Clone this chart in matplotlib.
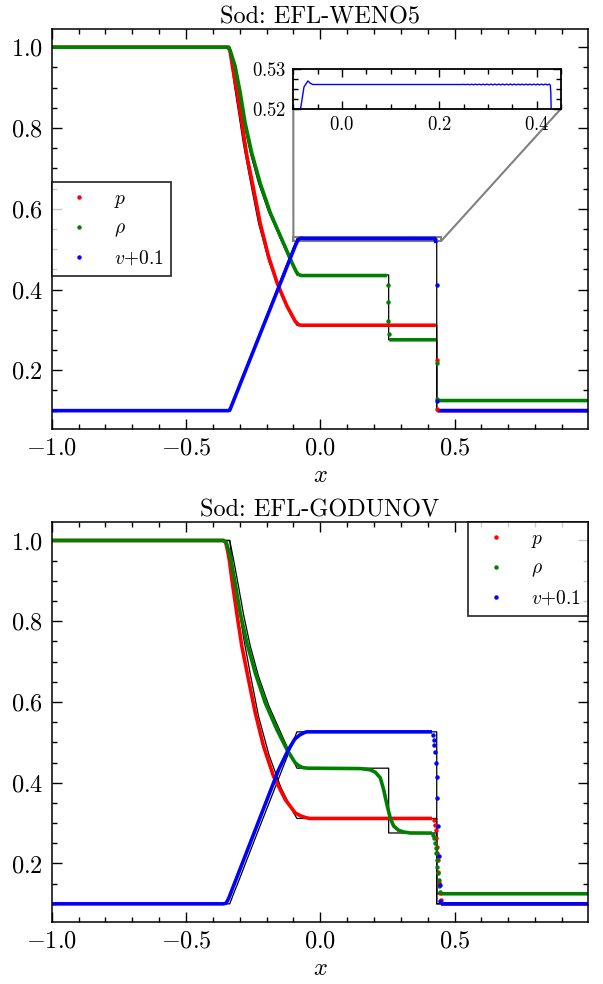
import numpy as np
import matplotlib
matplotlib.use('Agg')
import matplotlib.pyplot as plt
from matplotlib.ticker import MultipleLocator
from mpl_toolkits.axes_grid1.inset_locator import mark_inset

plt.rcParams['font.family'] = 'cmr10'
plt.rcParams['mathtext.fontset'] = 'cm'
plt.rcParams['axes.formatter.use_mathtext'] = True
plt.rcParams['font.size'] = 14

nan = np.nan

# exact Riemann solution (black line), shared by both panels
ex_x = [-1.0, -0.337, -0.322, -0.304, -0.286, -0.261, -0.230, -0.191, -0.147, -0.108,
        -0.087, 0.2547, 0.2547, 0.4337, 0.4337, 0.998]
ex_p = [1.0, 1.0, 0.916, 0.839, 0.761, 0.671, 0.565, 0.469, 0.389, 0.336,
        0.3115, 0.3115, 0.3115, 0.3115, 0.1, 0.1]
ex_rho = [1.0, 1.0, 0.950, 0.885, 0.818, 0.740, 0.664, 0.590, 0.524, 0.466,
          0.436, 0.436, 0.2755, 0.2755, 0.125, 0.125]
ex_v = [0.1, 0.1, 0.126, 0.156, 0.187, 0.230, 0.283, 0.349, 0.424, 0.490,
        0.526, 0.526, 0.526, 0.526, 0.1, 0.1]

# EFL-WENO5 (top)
weno_p_x = [-1.0, -0.342, -0.336, -0.325, -0.311, -0.292, -0.273, -0.248, -0.224, -0.193,
            -0.161, -0.124, -0.093, -0.080, -0.070, 0.430, nan, 0.437, 0.998]
weno_p = [1.0, 1.0, 0.99, 0.945, 0.895, 0.813, 0.730, 0.648, 0.565, 0.483,
          0.417, 0.359, 0.321, 0.3125, 0.3115, 0.3115, nan, 0.1, 0.1]
weno_p_dx = [0.4336, 0.436]
weno_p_dy = [0.225, 0.105]

weno_rho_x = [-1.0, -0.342, -0.336, -0.317, -0.298, -0.280, -0.255, -0.224, -0.186, -0.143,
              -0.105, -0.090, -0.081, -0.070, 0.249, nan, 0.257, 0.431, nan, 0.437, 0.998]
weno_rho = [1.0, 1.0, 0.993, 0.953, 0.887, 0.813, 0.738, 0.664, 0.590, 0.524,
            0.466, 0.445, 0.437, 0.4346, 0.4346, nan, 0.2755, 0.2755, nan, 0.125, 0.125]
weno_rho_dx = [0.251, 0.252, 0.2535, 0.255, 0.4336, 0.436]
weno_rho_dy = [0.410, 0.369, 0.321, 0.290, 0.218, 0.130]

weno_v_x = [-1.0, -0.343, -0.337, -0.095, -0.085, -0.078, -0.070, -0.065, -0.060, 0.246,
            0.250, 0.254, 0.258, 0.262, 0.266, 0.270, 0.274, 0.278, 0.282, 0.286,
            0.290, 0.294, 0.298, 0.302, 0.306, 0.310, 0.314, 0.318, 0.322, 0.326,
            0.330, 0.334, 0.338, 0.342, 0.346, 0.350, 0.354, 0.358, 0.362, 0.366,
            0.370, 0.374, 0.378, 0.382, 0.386, 0.390, 0.394, 0.398, 0.402, 0.406,
            0.410, 0.414, 0.418, 0.422, 0.426, 0.428, 0.429, 0.4305, nan, 0.437, 0.998]
weno_v = [0.1, 0.1, 0.101, 0.505, 0.520, 0.5255, 0.5270, 0.5264, 0.5261, 0.5261,
          0.52613, 0.52607, 0.52614, 0.52606, 0.52615, 0.52605, 0.52616, 0.52604, 0.52617, 0.52603,
          0.52618, 0.52602, 0.52619, 0.52601, 0.5262, 0.526, 0.5262, 0.526, 0.5262, 0.526,
          0.5262, 0.526, 0.5262, 0.526, 0.5262, 0.526, 0.5262, 0.526, 0.5262, 0.526,
          0.5262, 0.526, 0.5262, 0.526, 0.5262, 0.526, 0.5262, 0.526, 0.5262, 0.526,
          0.5262, 0.526, 0.5262, 0.526, 0.5262, 0.5259, 0.524, 0.515, nan, 0.1, 0.1]
weno_v_dx = [0.4336, 0.4336]
weno_v_dy = [0.4116, 0.123]

# EFL-GODUNOV (bottom)
god_p_x = [-1.0, -0.360, -0.352, -0.345, -0.337, -0.329, -0.311, -0.292, -0.267, -0.242,
           -0.211, -0.174, -0.130, -0.093, -0.070, -0.056, -0.040, 0.416, nan, 0.450, 0.998]
god_p = [1.0, 1.0, 0.995, 0.975, 0.945, 0.903, 0.821, 0.738, 0.655, 0.573,
         0.490, 0.416, 0.358, 0.325, 0.317, 0.314, 0.3115, 0.3115, nan, 0.1, 0.1]
god_p_dx = [0.4237, 0.4274, 0.4299, 0.432, 0.4337, 0.435, 0.4374, 0.440, 0.442, 0.445, 0.448]
god_p_dy = [0.308, 0.296, 0.283, 0.263, 0.242, 0.226, 0.209, 0.180, 0.151, 0.126, 0.110]

god_rho_x = [-1.0, -0.360, -0.350, -0.335, -0.317, -0.298, -0.273, -0.242, -0.205, -0.161,
             -0.124, -0.093, -0.075, -0.062, -0.045, 0.150, 0.186, 0.205, 0.2236, 0.236,
             0.2485, 0.261, 0.273, 0.292, 0.310, 0.335, 0.416, nan, 0.450, 0.998]
god_rho = [1.0, 1.0, 0.995, 0.961, 0.895, 0.821, 0.746, 0.672, 0.598, 0.531,
           0.482, 0.449, 0.440, 0.437, 0.436, 0.435, 0.432, 0.426, 0.412, 0.383,
           0.345, 0.312, 0.293, 0.282, 0.278, 0.2755, 0.2752, nan, 0.125, 0.125]
god_rho_dx = [0.419, 0.424, 0.4274, 0.430, 0.432, 0.434, 0.436, 0.439, 0.441, 0.444, 0.446]
god_rho_dy = [0.271, 0.263, 0.250, 0.238, 0.226, 0.209, 0.192, 0.176, 0.160, 0.143, 0.130]

god_v_x = [-1.0, -0.360, -0.350, -0.340, -0.242, -0.155, -0.120, -0.095, -0.075, -0.060,
           -0.050, 0.416, nan, 0.449, 0.998]
god_v = [0.1, 0.1, 0.102, 0.115, 0.283, 0.432, 0.480, 0.508, 0.519, 0.524,
         0.526, 0.526, nan, 0.1, 0.1]
god_v_dx = [0.420, 0.424, 0.425, 0.4286, 0.431, 0.4337, 0.436, 0.4398, 0.4436, 0.446, 0.447]
god_v_dy = [0.519, 0.507, 0.494, 0.476, 0.450, 0.414, 0.361, 0.293, 0.219, 0.147, 0.108]

FS = 17.5


def style(ax):
    ax.set_xlim(-1.0, 0.998)
    ax.set_ylim(0.055, 1.045)
    ax.xaxis.set_major_locator(MultipleLocator(0.5))
    ax.xaxis.set_minor_locator(MultipleLocator(0.1))
    ax.yaxis.set_major_locator(MultipleLocator(0.2))
    ax.yaxis.set_minor_locator(MultipleLocator(0.05))
    ax.tick_params(which='both', direction='in', top=True, right=True, width=1.0,
                   labelsize=FS, pad=6)
    ax.tick_params(which='major', length=7)
    ax.tick_params(which='minor', length=3.5)
    for s in ax.spines.values():
        s.set_linewidth(1.1)
    ax.set_xlabel('$x$', fontsize=FS)


def draw(ax, data):
    ax.plot(ex_x, ex_p, color='k', lw=0.9, zorder=1)
    ax.plot(ex_x, ex_rho, color='k', lw=0.9, zorder=1)
    ax.plot(ex_x, ex_v, color='k', lw=0.9, zorder=1)
    for (x, y, dx, dy), c, lab in zip(data, ['r', 'g', 'b'], ['$p$', r'$\rho$', '$v$+0.1']):
        ax.plot(x, y, '-', color=c, lw=2.6, solid_capstyle='butt', zorder=2)
        ax.plot(dx, dy, 'o', color=c, ms=3.2, mew=0, label=lab, zorder=3)


def add_legend(ax, loc):
    leg = ax.legend(loc=loc, borderaxespad=0, fancybox=False, edgecolor='k',
                    framealpha=0.8, numpoints=1, fontsize=14)
    leg.get_frame().set_linewidth(1.3)


fig = plt.figure(figsize=(6.03, 9.84), dpi=100)
ax1 = fig.add_axes([0.0857, 0.5642, 0.8899, 0.4063])
ax2 = fig.add_axes([0.0857, 0.0630, 0.8899, 0.4062])

draw(ax1, [(weno_p_x, weno_p, weno_p_dx, weno_p_dy),
           (weno_rho_x, weno_rho, weno_rho_dx, weno_rho_dy),
           (weno_v_x, weno_v, weno_v_dx, weno_v_dy)])
style(ax1)
ax1.set_title('Sod: EFL-WENO5', fontsize=FS, pad=4)
add_legend(ax1, 'center left')

# zoom on the velocity plateau
axins = fig.add_axes([0.4864, 0.8896, 0.444, 0.0402])
axins.plot(weno_v_x, weno_v, color='b', lw=1.0)
axins.set_xlim(-0.1, 0.45)
axins.set_ylim(0.52, 0.53)
axins.xaxis.set_major_locator(MultipleLocator(0.2))
axins.xaxis.set_minor_locator(MultipleLocator(0.05))
axins.yaxis.set_major_locator(MultipleLocator(0.01))
axins.yaxis.set_minor_locator(MultipleLocator(0.0025))
axins.tick_params(which='both', direction='in', top=True, right=True, width=1.0,
                  labelsize=13.5, pad=5)
axins.tick_params(which='major', length=6)
axins.tick_params(which='minor', length=3.5)
for s in axins.spines.values():
    s.set_linewidth(1.3)
mark_inset(ax1, axins, loc1=3, loc2=4, fc='none', ec='0.5', lw=1.5)

draw(ax2, [(god_p_x, god_p, god_p_dx, god_p_dy),
           (god_rho_x, god_rho, god_rho_dx, god_rho_dy),
           (god_v_x, god_v, god_v_dx, god_v_dy)])
style(ax2)
ax2.set_title('Sod: EFL-GODUNOV', fontsize=FS, pad=4)
add_legend(ax2, 'upper right')

fig.savefig('out.png', dpi=100)
